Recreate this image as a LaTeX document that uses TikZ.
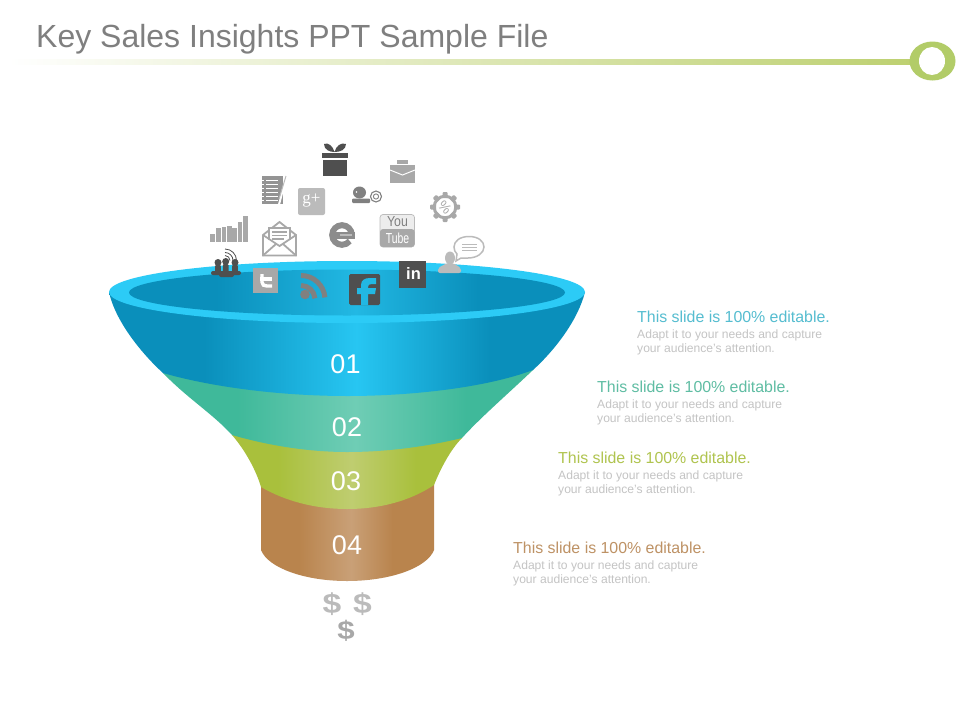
\documentclass[tikz,border=0pt]{standalone}
\usepackage{fontspec}
\setmainfont{Liberation Sans}
\newfontfamily\serifface{Liberation Serif}
\definecolor{titlegray}{HTML}{7F7F7F}
\definecolor{bodygray}{HTML}{C4C4C4}
\definecolor{softgray}{HTML}{BBBBBB}
\definecolor{icondark}{HTML}{4F4F4F}
\definecolor{iconmid}{HTML}{808080}
\definecolor{iconlight}{HTML}{A8A8A8}
\definecolor{noteC}{HTML}{949494}
\definecolor{eC}{HTML}{8C8C8C}
\definecolor{blueD}{HTML}{0A8FBB}\definecolor{blueL}{HTML}{27C6F2}
\definecolor{blueI}{HTML}{22B8E3}\definecolor{rimC}{HTML}{2CCBF6}
\definecolor{tealD}{HTML}{3FB99A}\definecolor{tealL}{HTML}{6FCDB5}
\definecolor{greenD}{HTML}{A9C03C}\definecolor{greenL}{HTML}{BFCD70}
\definecolor{brownD}{HTML}{B9844D}\definecolor{brownL}{HTML}{C9A077}
\definecolor{lineG}{HTML}{BDD070}\definecolor{ringG}{HTML}{B2CC68}
\definecolor{head1}{HTML}{55BDD0}\definecolor{head2}{HTML}{5FBDA3}
\definecolor{head3}{HTML}{B0C44F}\definecolor{head4}{HTML}{BE9265}
\pgfdeclarehorizontalshading{fblue}{100bp}{color(0bp)=(blueD);color(35bp)=(blueD);color(51bp)=(blueL);color(65bp)=(blueD);color(100bp)=(blueD)}
\pgfdeclarehorizontalshading{finner}{100bp}{color(0bp)=(blueD);color(35bp)=(blueD);color(51bp)=(blueI);color(65bp)=(blueD);color(100bp)=(blueD)}
\pgfdeclarehorizontalshading{fteal}{100bp}{color(0bp)=(tealD);color(35bp)=(tealD);color(51bp)=(tealL);color(66bp)=(tealD);color(100bp)=(tealD)}
\pgfdeclarehorizontalshading{fgreen}{100bp}{color(0bp)=(greenD);color(35bp)=(greenD);color(51bp)=(greenL);color(65bp)=(greenD);color(100bp)=(greenD)}
\pgfdeclarehorizontalshading{fbrown}{100bp}{color(0bp)=(brownD);color(36bp)=(brownD);color(51bp)=(brownL);color(63bp)=(brownD);color(100bp)=(brownD)}
\tikzset{
  numlabel/.style={text=white,font=\fontsize{27}{27}\selectfont,inner sep=0pt,anchor=center},
  headtext/.style={font=\fontsize{15.9}{16}\selectfont,inner sep=0pt,anchor=base west},
  bodytext/.style={text=bodygray,font=\fontsize{12.1}{14}\selectfont,inner sep=0pt,anchor=base west},
  dollar/.style={font=\fontsize{28}{28}\selectfont\bfseries,xscale=1.2,inner sep=0pt,anchor=center},
}
\begin{document}
\begin{tikzpicture}[x=1pt,y=-1pt]
\useasboundingbox (0,0) rectangle (960,720);
\fill[white] (0,0) rectangle (960,720);
% title and rule
\node[text=titlegray,font=\fontsize{32}{34}\selectfont,inner sep=0pt,anchor=base west] (title) at (36,47) {Key Sales Insights PPT Sample File};
\fill[left color=white,right color=lineG] (8,59) rectangle (915,64);
\fill[ringG] (932.5,61) ellipse [x radius=23pt,y radius=19.5pt];
\fill[white] (932,61) ellipse [x radius=13pt,y radius=14pt];
% funnel
\shade[shading=fbrown] (261,470) -- (261,550) .. controls (268,568) and (305,581) .. (347,581) .. controls (390,581) and (427,568) .. (434,550) -- (434,470) -- cycle;
\shade[shading=fgreen] (232,420) -- (232,435) .. controls (245,450) and (256,470) .. (261,487) .. controls (285,501) and (315,509) .. (347,509) .. controls (380,509) and (410,501) .. (434,485) .. controls (440,470) and (450,450) .. (462,438) -- (462,420) -- cycle;
\shade[shading=fteal] (163,350) -- (163,373) .. controls (187,398) and (213,414) .. (232,435) .. controls (270,446) and (310,452) .. (347,452) .. controls (385,452) and (425,447) .. (462,438) .. controls (480,418) and (510,392) .. (533,370) -- (533,350) -- cycle;
\shade[shading=fblue] (109,292) .. controls (115,320) and (140,352) .. (163,373) .. controls (215,388) and (285,396) .. (347,396) .. controls (410,396) and (485,388) .. (533,370) .. controls (555,350) and (578,320) .. (585,292) -- cycle;
\fill[rimC] (347,292) ellipse [x radius=238pt,y radius=31pt];
\shade[shading=finner] (347,292.5) ellipse [x radius=218pt,y radius=23pt];
\node[numlabel] (n1) at (345.5,364) {01};
\node[numlabel] (n2) at (347,427) {02};
\node[numlabel] (n3) at (346,481) {03};
\node[numlabel] (n4) at (347,545) {04};
% side texts
\node[headtext,text=head1] (h1) at (637,322) {This slide is 100\% editable.};
\node[bodytext] (b1a) at (637,338) {Adapt it to your needs and capture};
\node[bodytext] (b1b) at (637,352) {your audience's attention.};
\node[headtext,text=head2] (h2) at (597,392) {This slide is 100\% editable.};
\node[bodytext] (b2a) at (597,408) {Adapt it to your needs and capture};
\node[bodytext] (b2b) at (597,422) {your audience's attention.};
\node[headtext,text=head3] (h3) at (558,463) {This slide is 100\% editable.};
\node[bodytext] (b3a) at (558,479) {Adapt it to your needs and capture};
\node[bodytext] (b3b) at (558,493) {your audience's attention.};
\node[headtext,text=head4] (h4) at (513,553) {This slide is 100\% editable.};
\node[bodytext] (b4a) at (513,569) {Adapt it to your needs and capture};
\node[bodytext] (b4b) at (513,583) {your audience's attention.};
% dollars
\node[dollar,text=softgray] (d1) at (332,604) {\$};
\node[dollar,text=softgray] (d2) at (362.5,604) {\$};
\node[dollar,text=iconlight,font=\fontsize{26}{26}\selectfont\bfseries] (d3) at (346,631) {\$};
% gift
\fill[icondark] (323,160) rectangle (347,175.5);
\fill[icondark] (322,153) rectangle (348,158);
\fill[icondark,even odd rule] (334.5,152) .. controls (330,152) and (324,150) .. (324,144) .. controls (328,142) and (333,146) .. (334.5,152) .. controls (336,146) and (341,142) .. (346,144) .. controls (346,150) and (340,152) .. (334.5,152) -- cycle;
% briefcase
\fill[iconlight] (397,160) rectangle (408,164);
\fill[iconlight] (390,165) rectangle (415,182.5);
\draw[white,line width=1pt] (390,170) -- (402.5,175) -- (415,170);
% notebook
\fill[noteC] (262,176) rectangle (283,204);
\foreach \yy in {180,184,188,192,196,200} {\draw[white,line width=0.7pt] (261,\yy) -- (264,\yy) (266,\yy) -- (278,\yy);}
\draw[white,line width=2pt] (286,178) -- (279,204.5);
\draw[softgray,line width=1pt] (286,176) -- (279,199);
% google plus
\fill[softgray,rounded corners=2pt] (298,188) rectangle (325,215);
\node[text=white,font=\fontsize{17}{17}\selectfont\serifface,inner sep=0pt] (gplus) at (311.5,200.5) {g+};
% webcam
\fill[iconmid] (359.5,192.5) ellipse [x radius=6.5pt,y radius=6pt];
\fill[white] (356.5,192) circle [radius=0.9pt];
\fill[iconmid,rounded corners=1pt] (352,198.5) rectangle (370,203);
\draw[iconmid,line width=1.1pt] (376,196.5) circle [radius=5.5pt];
\draw[iconmid,line width=0.9pt] (376,196.5) circle [radius=2.6pt];
% gear
\foreach \aa in {0,45,...,315} {\fill[iconlight,rounded corners=1pt,rotate around={\aa:(445,207)}] (442.5,192) rectangle (447.5,198);}
\draw[iconlight,line width=3pt] (445,207) circle [radius=10.8pt];
\node[text=iconlight,font=\fontsize{14}{14}\selectfont,rotate=-45,inner sep=0pt] (gearpct) at (445,207) {\%};
% bars
\foreach \xa/\ya in {210/234,216/228,221.7/227,227/226,232.3/228,237.7/222,243/216} {\fill[softgray!90!black] (\xa,\ya) rectangle (\xa+4.5,242);}
% envelope
\draw[softgray!90!black,line width=1.8pt,fill=white] (263,235) -- (279.5,222) -- (296,235) -- (296,255.5) -- (263,255.5) -- cycle;
\draw[softgray!90!black,line width=1.4pt,fill=white] (269,240) -- (269,228) -- (290,228) -- (290,240);
\draw[softgray!90!black,line width=1.2pt] (272,232) -- (287,232) (272,235.5) -- (287,235.5) (272,239) -- (284,239);
\draw[softgray!90!black,line width=1.8pt] (263,235) -- (279.5,246) -- (296,235) (263,255.5) -- (276,244) (296,255.5) -- (283,244);
% e icon
\draw[eC,line width=6pt] (351.8,235) arc [start angle=0,end angle=322,radius=9.8pt];
\fill[eC] (333,232) rectangle (355,238.5);
\fill[softgray] (340,234.2) rectangle (352,236.4);
% youtube
\fill[black!7,draw=softgray,line width=0.7pt,rounded corners=3pt] (380,214.5) rectangle (414.5,247);
\fill[iconlight,rounded corners=3pt] (380,229) rectangle (414.5,247);
\node[text=iconmid,font=\fontsize{14.5}{14.5}\selectfont,xscale=0.85,inner sep=0pt] (you) at (397.5,222) {You};
\node[text=white,font=\fontsize{14.5}{14.5}\selectfont,xscale=0.72,inner sep=0pt] (tube) at (397.5,238) {Tube};
% person + bubble
\draw[softgray,line width=1.5pt,fill=white] (469,236.5) .. controls (478,236.5) and (484,241) .. (484,247) .. controls (484,253) and (477,258) .. (468,258) -- (461,258) -- (456,261) -- (457,254) .. controls (455,252) and (454,250) .. (454,247) .. controls (454,241) and (460,236.5) .. (469,236.5) -- cycle;
\draw[softgray,line width=0.9pt] (462,244) -- (477,244) (462,247) -- (477,247) (462,250) -- (477,250);
\fill[softgray] (450,258) ellipse [x radius=5pt,y radius=6.5pt];
\fill[softgray,rounded corners=2pt] (447,263) -- (453,263) -- (461,268) -- (461,273) -- (438,273) -- (438,268) -- cycle;
% group with signal
\foreach \rr in {5,8,11.5} {\draw[icondark,line width=0.8pt] (225+\rr,260.5) arc [start angle=0,end angle=90,radius=\rr pt];}
\foreach \xa/\ya in {218/262.5,225.7/261.5,235/262.5} {
  \fill[icondark] (\xa,\ya) circle [radius=3.5pt];
  \fill[icondark,rounded corners=1.5pt] (\xa-2.8,\ya+2) rectangle (\xa+2.8,\ya+11);
}
\fill[icondark,rounded corners=2pt] (211,271) rectangle (241,275);
\fill[icondark,rounded corners=2pt] (219,272) rectangle (234,277);
% twitter
\fill[iconlight] (253,268) rectangle (278,293);
\draw[white,line width=3.4pt] (262,274) -- (262,282) .. controls (262,285) and (264,286) .. (267,286) -- (272,286);
\draw[white,line width=3.2pt] (260,279) -- (272,279);
% rss
\draw[iconmid,line width=5pt] (301,285.5) arc [start angle=90,end angle=5,radius=14pt];
\draw[iconmid,line width=5pt] (301,275.5) arc [start angle=90,end angle=5,radius=24pt];
\fill[iconmid] (305,294.5) circle [radius=4.8pt];
% facebook
\fill[icondark,rounded corners=1.5pt] (349,274) rectangle (380,305);
\fill[blueI] (361,305) -- (361,294) -- (357,294) -- (357,288) -- (361,288) -- (361,285) .. controls (361,280) and (365,278) .. (370,278) -- (376,278) -- (376,284) -- (372,284) .. controls (369,284) and (368,285) .. (368,287) -- (368,288) -- (376,288) -- (375,294) -- (368,294) -- (368,305) -- cycle;
% linkedin
\fill[icondark] (399,261) rectangle (426,288);
\node[text=white,font=\fontsize{16.5}{16.5}\selectfont\bfseries,inner sep=0pt] (linkedin) at (413.5,274) {in};
\end{tikzpicture}
\end{document}
